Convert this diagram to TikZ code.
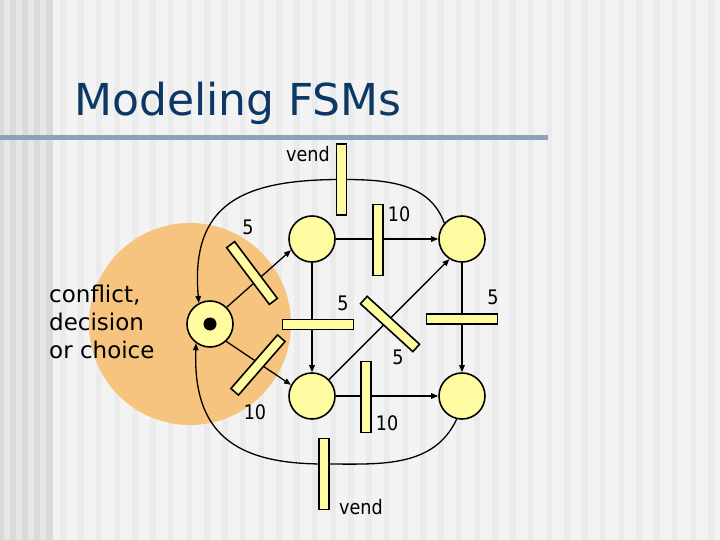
\documentclass[tikz,border=0pt]{standalone}
\usepackage{fontspec}
\setmainfont{DejaVu Sans}
\newfontfamily\lblfont{DejaVu Sans}[FakeStretch=0.88]
\usetikzlibrary{arrows.meta,backgrounds}

\definecolor{placefill}{RGB}{255,251,160}
\definecolor{choiceorange}{RGB}{246,196,126}
\definecolor{titleblue}{RGB}{12,56,102}
\definecolor{rulegray}{RGB}{141,162,186}
\definecolor{slidebg}{RGB}{243,243,243}
\definecolor{stripe}{RGB}{235,235,235}
\definecolor{edgebg}{RGB}{218,218,218}
\definecolor{edgestripe}{RGB}{231,231,231}

\begin{document}
\begin{tikzpicture}[x=1pt, y=1pt,
    place/.style={circle, draw, line width=1.6pt, fill=placefill, minimum size=46pt, inner sep=0pt},
    trans/.style={rectangle, draw, line width=1.6pt, fill=placefill, minimum width=10pt, minimum height=71pt, inner sep=0pt},
    arc/.style={line width=1.3pt, -{Triangle[length=7pt,width=5.5pt]}},
    lbl/.style={font=\lblfont\fontsize{20}{24}\selectfont, inner sep=0pt}]

    \useasboundingbox (0,0) rectangle (720,-540);

    % Title
    \node[anchor=base west, text=titleblue, font=\fontsize{44}{50}\selectfont, inner sep=0pt] (title) at (74,-116) {Modeling FSMs};
    \fill[rulegray] (0,-135) rectangle (548,-140);

    % Places
    \node[place] (pl) at (210,-324) {};
    \node[place] (ptm) at (312,-239) {};
    \node[place] (ptr) at (462,-239) {};
    \node[place] (pbm) at (312,-396) {};
    \node[place] (pbr) at (462,-396) {};
    \fill (pl.center) circle (6.5);

    % Transitions
    \node[trans] (vtop) at (341.5,-179.5) {};
    \node[trans] (t10top) at (378,-240) {};
    \node[trans, rotate=37] (t5a) at (252,-273) {};
    \node[trans, rotate=-41] (t10a) at (258,-365) {};
    \node[trans, rotate=90] (t5mid) at (318,-324.5) {};
    \node[trans, rotate=47.6] (t5diag) at (390,-324) {};
    \node[trans, rotate=90] (t5right) at (462,-319) {};
    \node[trans] (t10bot) at (366,-397) {};
    \node[trans] (vbot) at (324,-474) {};

    % Labels
    \node[lbl] (lvtop) at (308,-154) {vend};
    \node[lbl] (l10top) at (399,-214) {10};
    \node[lbl] (l5a) at (248,-227) {5};
    \node[lbl] (l5mid) at (343,-303) {5};
    \node[lbl] (l5right) at (493,-297) {5};
    \node[lbl] (l5diag) at (398,-357) {5};
    \node[lbl] (l10a) at (255,-412) {10};
    \node[lbl] (l10bot) at (387,-423) {10};
    \node[lbl] (lvbot) at (361,-507) {vend};
    \node[anchor=west, align=left, font=\fontsize{23}{28}\selectfont, inner sep=0pt] (choice) at (49,-321.5) {conflict,\\decision\\or choice};

    \begin{scope}[on background layer]
        % Slide backdrop
        \fill[slidebg] (0,0) rectangle (720,-540);
        \foreach \x in {60,78,...,714} \fill[stripe] (\x,0) rectangle ++(6,-540);
        \fill[edgebg] (0,0) rectangle (53,-540);
        \foreach \x in {4,16,28,40} \fill[edgestripe] (\x,0) rectangle ++(6,-540);
        \fill[choiceorange] (190,-324) circle (101);

        % Arcs
        \draw[arc] (pl.45) -- (ptm.208);
        \draw[arc] (pl.-47) -- (pbm.152);
        \draw[arc] (ptm.east) -- (ptr.west);
        \draw[arc] (ptm.south) -- (pbm.north);
        \draw[arc] (ptr.south) -- (pbr.north);
        \draw[arc] (pbm.east) -- (pbr.west);
        \draw[arc] (pbm.44) -- (ptr.238);
        \draw[arc] (ptr.138) to[out=110,in=0] (vtop.center) to[out=180,in=95,looseness=1.35] (pl.118);
        \draw[arc] (pbr.257) to[out=245,in=0] ([yshift=10pt]vbot.center) to[out=180,in=268,looseness=1.3] (pl.234);
    \end{scope}
\end{tikzpicture}
\end{document}
